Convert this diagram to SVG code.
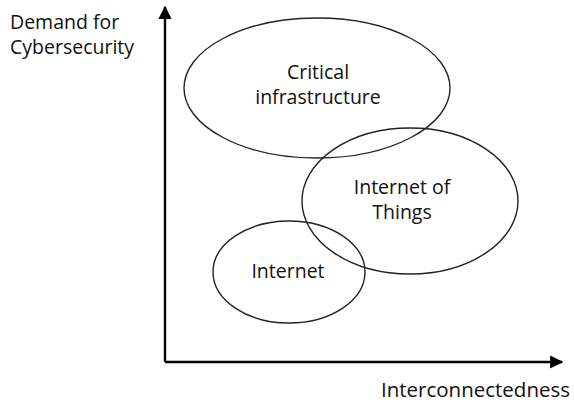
<svg xmlns="http://www.w3.org/2000/svg" width="574" height="405" viewBox="0 0 574 405">
  <style>
    .lbl { font-family: "Open Sans", "Liberation Sans", sans-serif; font-size: 19.5px; fill: #111; }
    .mid { text-anchor: middle; }
    .area { fill: none; stroke: #222; stroke-width: 1.4; }
    .axis { fill: none; stroke: #000; stroke-width: 2.4; }
  </style>
  <defs>
    <marker id="head" viewBox="0 0 10 10" refX="9" refY="5" markerWidth="5.5" markerHeight="5.5" orient="auto" markerUnits="strokeWidth">
      <path d="M0,0 L10,5 L0,10 z" fill="#000"/>
    </marker>
  </defs>
  <rect width="574" height="405" fill="#fff"/>

  <g id="connectors">
    <path class="axis" d="M165,362 V7" marker-end="url(#head)"/>
    <path class="axis" d="M165,362 H562" marker-end="url(#head)"/>
  </g>

  <g id="critical-infrastructure">
    <ellipse class="area" cx="317" cy="88" rx="133" ry="70"/>
    <text class="lbl mid" x="318" y="79">Critical</text>
    <text class="lbl mid" x="318" y="104">infrastructure</text>
  </g>

  <g id="internet-of-things">
    <ellipse class="area" cx="410" cy="201" rx="108" ry="73"/>
    <text class="lbl mid" x="402" y="194">Internet of</text>
    <text class="lbl mid" x="402" y="219">Things</text>
  </g>

  <g id="internet">
    <ellipse class="area" cx="289" cy="272" rx="76" ry="51"/>
    <text class="lbl mid" x="288" y="278">Internet</text>
  </g>

  <g id="y-label">
    <text class="lbl" x="10" y="29">Demand for</text>
    <text class="lbl" x="10" y="54">Cybersecurity</text>
  </g>

  <g id="x-label">
    <text class="lbl" x="381" y="397" textLength="189" lengthAdjust="spacingAndGlyphs">Interconnectedness</text>
  </g>
</svg>
